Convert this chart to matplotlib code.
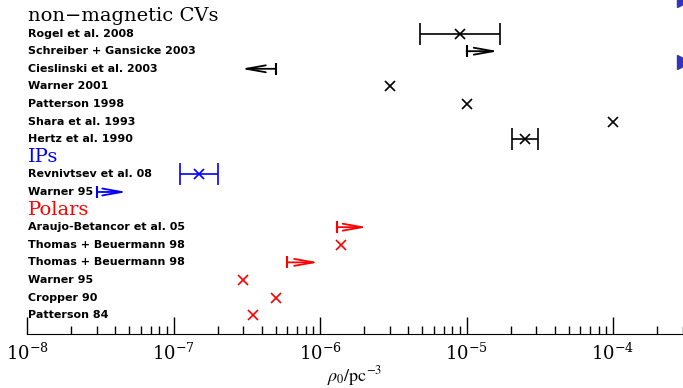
import numpy as np
import matplotlib
matplotlib.use('Agg')
import matplotlib.pyplot as plt
from matplotlib.ticker import LogLocator, LogFormatterMathtext

plt.rcParams['mathtext.fontset'] = 'stix'
plt.rcParams['font.family'] = 'DejaVu Serif'

# rows, top to bottom (row 0 is the "non-magnetic CVs" heading)
labels = ['Rogel et al. 2008', 'Schreiber + Gansicke 2003', 'Cieslinski et al. 2003',
          'Warner 2001', 'Patterson 1998', 'Shara et al. 1993', 'Hertz et al. 1990',
          'Revnivtsev et al. 08', 'Warner 95',
          'Araujo-Betancor et al. 05', 'Thomas + Beuermann 98', 'Thomas + Beuermann 98',
          'Warner 95', 'Cropper 90', 'Patterson 84']
label_rows = [1, 2, 3, 4, 5, 6, 7, 9, 10, 12, 13, 14, 15, 16, 17]

headings = ['non\u2212magnetic CVs', 'IPs', 'Polars']
heading_rows = [0, 8, 11]
heading_colors = ['black', 'blue', 'red']

# point estimates (x marker)
pt_row = [1, 4, 5, 6, 7, 9, 13, 15, 16, 17]
pt_val = [9e-6, 3e-6, 1e-5, 1e-4, 2.5e-5, 1.5e-7, 1.4e-6, 3e-7, 5e-7, 3.5e-7]
pt_lo = [4.8e-6, None, None, None, 2.05e-5, 1.1e-7, None, None, None, None]
pt_hi = [1.7e-5, None, None, None, 3.1e-5, 2.0e-7, None, None, None, None]
pt_col = ['black', 'black', 'black', 'black', 'black', 'blue', 'red', 'red', 'red', 'red']

# limits: cap at start value, arrow pointing to end value
lim_row = [2, 3, 10, 12, 14]
lim_start = [1e-5, 5e-7, 3e-8, 1.3e-6, 6e-7]
lim_end = [1.65e-5, 2.9e-7, 4.8e-8, 2.1e-6, 9.8e-7]
lim_col = ['black', 'black', 'blue', 'red', 'red']

# partly visible markers at the right edge
tri_row = [-0.9, 2.6]
tri_val = [3.05e-4, 3.05e-4]

fig = plt.figure(figsize=(6.83, 3.88), dpi=100)
ax = fig.add_axes([27 / 683, 54 / 388, 656 / 683, 334 / 388])
ax.set_xscale('log')
ax.set_xlim(1e-8, 10 ** (-8 + 656 / 146.5))
ax.set_ylim(18.07, -0.909)

for r, v, lo, hi, c in zip(pt_row, pt_val, pt_lo, pt_hi, pt_col):
    if lo is None:
        ax.plot(v, r, 'x', color=c, ms=7, mew=1.2)
    else:
        ax.errorbar(v, r, xerr=[[v - lo], [hi - v]], fmt='x', color=c, ms=7, mew=1.2,
                    elinewidth=1.2, capsize=8, capthick=1.2)

for r, s, e, c in zip(lim_row, lim_start, lim_end, lim_col):
    ax.plot(s, r, '|', color=c, ms=9, mew=1.5)
    ax.annotate('', xy=(e, r), xytext=(s, r),
                arrowprops=dict(arrowstyle='->,head_length=1.4,head_width=0.25',
                                color=c, lw=1.3, shrinkA=0, shrinkB=0,
                                mutation_scale=10))

ax.plot(tri_val, tri_row, '>', color='#3333bb', ms=10, clip_on=False)

tx = 1.0e-8 * 10 ** (0.005)
for lab, r in zip(labels, label_rows):
    ax.text(tx, r, lab, fontsize=8, fontweight='bold', family='DejaVu Sans',
            va='center', ha='left')
for lab, r, c in zip(headings, heading_rows, heading_colors):
    ax.text(tx, r, lab, fontsize=14, family='DejaVu Serif', color=c,
            va='center', ha='left')

for s in ['top', 'left', 'right']:
    ax.spines[s].set_visible(False)
ax.set_yticks([])
ax.xaxis.set_major_locator(LogLocator(base=10))
ax.xaxis.set_minor_locator(LogLocator(base=10, subs=np.arange(2, 10)))
ax.xaxis.set_major_formatter(LogFormatterMathtext())
ax.tick_params(axis='x', which='major', direction='in', length=12, width=1,
               labelsize=13, pad=6)
ax.tick_params(axis='x', which='minor', direction='in', length=6, width=1)
ax.set_xlabel(r'$\rho_0/\mathrm{pc}^{-3}$', fontsize=13, labelpad=0)

fig.savefig('out.png', dpi=100)
